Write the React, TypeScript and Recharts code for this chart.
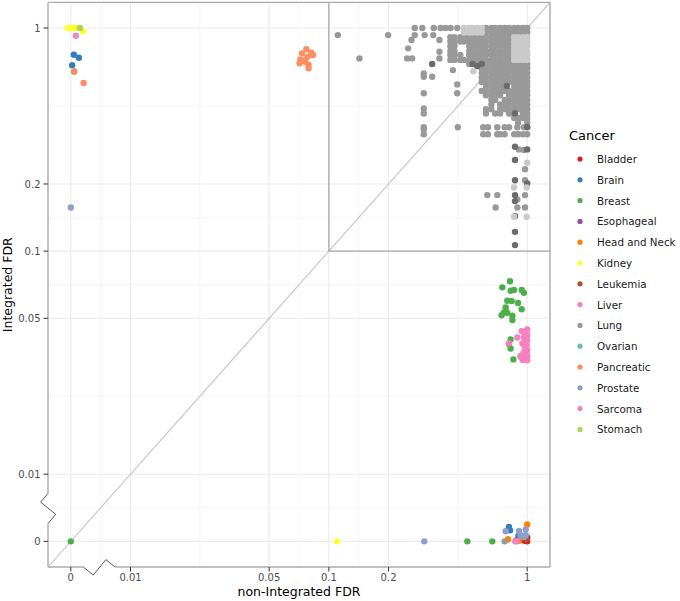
import React from 'react';
import { ScatterChart, Scatter, XAxis, YAxis, ReferenceLine } from 'recharts';

// [non-Integrated FDR, Integrated FDR]
type Pair = [number, number];
// [Integrated FDR, list of non-Integrated FDRs sharing it]
type Row = [number, number[]];

const FONT = '"DejaVu Sans", Verdana, sans-serif';

const cancers = [
  'Bladder', 'Brain', 'Breast', 'Esophageal', 'Head and Neck', 'Kidney', 'Leukemia',
  'Liver', 'Lung', 'Ovarian', 'Pancreatic', 'Prostate', 'Sarcoma', 'Stomach',
];
const cancerColors = [
  '#E41A1C', '#377EB8', '#4DAF4A', '#984EA3', '#FF7F00', '#FFFF33', '#A65628',
  '#F781BF', '#999999', '#66C2A5', '#FC8D62', '#8DA0CB', '#E78AC3', '#A6D854',
];

const tickValues = [0, 0.01, 0.05, 0.1, 0.2, 1];
const tickLabels = ['0', '0.01', '0.05', '0.1', '0.2', '1'];

const bladder: Pair[] = [[1, 0], [1, 0.0052], [0.97, 0.00503]];
const brain: Pair[] = [
  [0.00518, 0.759], [0.00549, 0.736], [0.00508, 0.682],
  [0.809, 0.0058], [0.82, 0.0056], [0.903, 0.00528],
];
const breast: Pair[] = [
  [0.749, 0.0688], [0.819, 0.0733], [0.825, 0.0664], [0.858, 0.0669], [0.938, 0.0669],
  [0.963, 0.065], [0.794, 0.0599], [0.835, 0.0597], [0.899, 0.0586], [0.779, 0.0559],
  [0.938, 0.0549], [0.763, 0.0531], [0.794, 0.0529], [0.743, 0.0516], [0.842, 0.0513],
  [0.842, 0.0491], [0.825, 0.0402], [0.809, 0.0383], [0.825, 0.0366], [0.852, 0.0327],
  [0.927, 0.0338], [0.499, 0], [0.667, 0], [0, 0],
];
const esophageal: Pair[] = [[0.88, 0.00505]];
const headAndNeck: Pair[] = [[1, 0.00595], [0.8, 0.00511], [0.909, 0.00503]];
const kidney: Pair[] = [
  [0.00483, 1], [0.005, 1], [0.00509, 1], [0.00518, 1], [0.0053, 1], [0.00541, 1],
  [0.00577, 0.966], [0.11, 0],
];
const leukemia: Pair[] = [[0.99, 0.0051]];
const liver: Pair[] = [
  [0.938, 0.0438], [0.892, 0.041], [0.963, 0.041], [1, 0.042], [1, 0.0399], [0.946, 0.0386],
  [0.994, 0.0379], [1, 0.036], [0.957, 0.035], [0.994, 0.0345], [0.927, 0.0336], [0.983, 0.033],
  [1, 0.0324], [0.809, 0.0386], [0.975, 0.0425], [0.985, 0.0395], [0.97, 0.037], [0.99, 0.0355],
  [0.965, 0.0335], [0.975, 0.0325], [1, 0.0445], [0.95, 0.0325], [1, 0.0338], [0.98, 0.0405],
  [0.96, 0.0385], [0.885, 0],
];
const lungScattered: Pair[] = [
  [0.111, 0.93], [0.199, 0.93], [0.1426, 0.731],
  [0.271, 1], [0.296, 1], [0.338, 1], [0.366, 1], [0.388, 1], [0.411, 1], [0.444, 1],
  [0.271, 0.93], [0.304, 0.93], [0.336, 0.93], [0.261, 0.884], [0.361, 0.884],
  [0.251, 0.811], [0.361, 0.783], [0.248, 0.731], [0.263, 0.731], [0.361, 0.731],
  [0.301, 0.626], [0.301, 0.605], [0.332, 0.605], [0.422, 0.648],
  [0.301, 0.51], [0.444, 0.559], [0.444, 0.51], [0.301, 0.436], [0.301, 0.414],
  [0.447, 0.359], [0.301, 0.359], [0.301, 0.351], [0.301, 0.334],
  [0.909, 0.2858], [0.963, 0.2838], [0.975, 0.233], [0.975, 0.208], [0.6295, 0.1783],
  [0.7071, 0.1783], [0.975, 0.1783], [0.892, 0.1706], [0.6933, 0.157], [0.892, 0.157],
  [0.975, 0.157], [0.77, 0],
];
const lungBlock: Row[] = [
  [1, [0.62, 0.66, 0.69, 0.73, 0.77, 0.81, 0.86, 0.9, 0.95, 1]],
  [0.955, [0.62, 0.66, 0.69, 0.73, 0.77, 0.81, 0.86, 0.9, 0.95, 1]],
  [0.91, [0.41, 0.43, 0.46, 0.48, 0.51, 0.53, 0.56, 0.59, 0.62, 0.66, 0.69, 0.73, 0.77, 0.81]],
  [0.87, [0.41, 0.43, 0.46, 0.48, 0.51, 0.53, 0.56, 0.59, 0.62, 0.66, 0.69, 0.73, 0.77, 0.81]],
  [0.83, [0.41, 0.43, 0.51, 0.53, 0.56, 0.59, 0.62, 0.66, 0.69, 0.73, 0.77, 0.81]],
  [0.79, [0.41, 0.43, 0.51, 0.53, 0.56, 0.59, 0.62, 0.66, 0.69, 0.73, 0.77, 0.81]],
  [0.757, [0.41, 0.43, 0.46, 0.51, 0.53, 0.56, 0.59, 0.62, 0.66, 0.69, 0.73, 0.77, 0.81]],
  [0.72, [0.41, 0.43, 0.46, 0.48, 0.51, 0.53, 0.56, 0.59, 0.62, 0.66, 0.69, 0.73, 0.77, 0.81]],
  [0.69, [0.51, 0.56, 0.62, 0.66, 0.69, 0.73, 0.77, 0.81, 0.86, 0.9, 0.95, 1]],
  [0.66, [0.59, 0.62, 0.66, 0.69, 0.73, 0.77, 0.81, 0.86, 0.9, 0.95, 1]],
  [0.63, [0.59, 0.62, 0.66, 0.69, 0.73, 0.77, 0.81, 0.86, 0.9, 0.95, 1]],
  [0.6, [0.59, 0.62, 0.66, 0.69, 0.73, 0.77, 0.81, 0.86, 0.9, 0.95, 1]],
  [0.573, [0.59, 0.62, 0.66, 0.69, 0.73, 0.77, 0.81, 0.86, 0.9, 0.95, 1]],
  [0.547, [0.62, 0.66, 0.69, 0.73, 0.77, 0.86, 0.9, 0.95, 1]],
  [0.522, [0.59, 0.62, 0.66, 0.69, 0.73, 0.77, 0.81, 0.86, 0.9, 0.95, 1]],
  [0.5, [0.62, 0.66, 0.69, 0.73, 0.81, 0.86, 0.9, 0.95, 1]],
  [0.476, [0.66, 0.69, 0.77, 0.81, 0.86, 0.9, 0.95, 1]],
  [0.454, [0.66, 0.73, 0.77, 0.81, 0.86, 0.9, 0.95, 1]],
  [0.433, [0.62, 0.66, 0.73, 0.77, 0.81, 0.86, 0.9, 0.95, 1]],
  [0.414, [0.62, 0.69, 0.73, 0.81, 0.86, 0.95, 1]],
  [0.395, [0.86, 0.9, 0.95, 1]],
  [0.377, [0.9, 1]],
  [0.359, [0.6, 0.634, 0.707, 0.77, 0.81, 0.892, 0.963, 1]],
  [0.334, [0.6, 0.634, 0.707, 0.73, 0.77, 0.86, 0.9, 0.95, 1]],
];
// Overlapping Lung points that read darker or lighter than the base grey
const lungDark: Pair[] = [
  [0.332, 0.69], [0.53, 0.69], [0.59, 0.69], [0.56, 0.675], [0.79, 0.55], [1, 0.36],
  [0.868, 0.415], [0.868, 0.2935], [1, 0.2858], [0.868, 0.256], [0.868, 0.208], [1, 0.2009],
  [0.868, 0.1783], [0.868, 0.1676], [0.868, 0.1435], [0.868, 0.122], [0.868, 0.1064],
];
const lungLight: Pair[] = [
  [0.535, 0.641], [1, 0.249], [0.858, 0.193], [0.994, 0.193], [0.858, 0.1425], [0.994, 0.1425],
];
const lungLightBlock: Row[] = [
  [1, [0.48, 0.51, 0.53, 0.56, 0.59]],
  [0.955, [0.48, 0.51, 0.53, 0.56, 0.59]],
  [0.91, [0.86, 0.9, 0.95, 1]],
  [0.87, [0.86, 0.9, 0.95, 1]],
  [0.83, [0.86, 0.9, 0.95, 1]],
  [0.79, [0.86, 0.9, 0.95, 1]],
  [0.757, [0.86, 0.9, 0.95, 1]],
  [0.72, [0.86, 0.9, 0.95, 1]],
];
const ovarian: Pair[] = [[0.0052, 0.639]];
const pancreatic: Pair[] = [
  [0.0052, 0.639], [0.0058, 0.567],
  [0.0732, 0.77], [0.077, 0.803], [0.0816, 0.775], [0.0832, 0.757], [0.0781, 0.743],
  [0.0746, 0.714], [0.0712, 0.695], [0.0761, 0.706], [0.079, 0.683], [0.079, 0.66], [0.0718, 0.724],
];
const prostate: Pair[] = [
  [0, 0.157], [0.3027, 0], [0.779, 0.00555], [0.909, 0.00557], [0.983, 0.00565],
  [0.927, 0.00533], [0.963, 0.00523], [0.983, 0.00533],
];
const sarcoma: Pair[] = [[0.0053, 0.924], [0.87, 0]];
const stomach: Pair[] = [[0.00556, 1]];

// Log10 scale on both axes; exact zeros sit at 0.005, beyond the axis break
const ZERO_POS = 0.005;
const toT = (v: number) => Math.log10(v > 0 ? v : ZERO_POS);
const DOMAIN: [number, number] = [-2.416, 0.115];
const majorT = tickValues.map(toT);
const minorT = majorT.slice(1).map((t, i) => (t + majorT[i]) / 2);
const tickLabel = (t: number) => {
  const i = majorT.findIndex((m) => Math.abs(m - t) < 1e-6);
  return i >= 0 ? tickLabels[i] : '';
};

const fromPairs = (pairs: Pair[]) => pairs.map(([nx, iy]) => ({ x: toT(nx), y: toT(iy) }));
const fromRows = (rows: Row[]) =>
  rows.flatMap(([iy, xs]) => xs.map((nx) => ({ x: toT(nx), y: toT(iy) })));

const seriesPoints: Record<string, { x: number; y: number }[]> = {
  Bladder: fromPairs(bladder),
  Brain: fromPairs(brain),
  Breast: fromPairs(breast),
  Esophageal: fromPairs(esophageal),
  'Head and Neck': fromPairs(headAndNeck),
  Kidney: fromPairs(kidney),
  Leukemia: fromPairs(leukemia),
  Liver: fromPairs(liver),
  Lung: [...fromPairs(lungScattered), ...fromRows(lungBlock)],
  Ovarian: fromPairs(ovarian),
  Pancreatic: fromPairs(pancreatic),
  Prostate: fromPairs(prostate),
  Sarcoma: fromPairs(sarcoma),
  Stomach: fromPairs(stomach),
};
const lungDarkPoints = fromPairs(lungDark);
const lungLightPoints = [...fromPairs(lungLight), ...fromRows(lungLightBlock)];

const POINT_R = 3.2;
const dot = (fill: string) => (p: any) => <circle cx={p.cx} cy={p.cy} r={POINT_R} fill={fill} />;

// Broken-axis geometry (axis units)
const L = DOMAIN[0];
const B = DOMAIN[0];
const yBreak: [number, number][] = [[L, -2.086], [L - 0.037, -2.125], [L + 0.039, -2.18], [L, -2.221]];
const xBreak: [number, number][] = [[-2.238, B], [-2.188, B - 0.036], [-2.124, B + 0.033], [-2.078, B]];

const AXIS_GREY = '#ABABAB';

const seg = (key: string, a: [number, number], b: [number, number], stroke: string, w: number) => (
  <ReferenceLine
    key={key}
    segment={[{ x: a[0], y: a[1] }, { x: b[0], y: b[1] }]}
    stroke={stroke}
    strokeWidth={w}
    ifOverflow="visible"
  />
);

export default function App() {
  const gridLines = [
    ...minorT.map((t) => <ReferenceLine key={`mx${t}`} x={t} stroke="#F0F0F0" strokeWidth={0.7} ifOverflow="hidden" />),
    ...minorT.map((t) => <ReferenceLine key={`my${t}`} y={t} stroke="#F0F0F0" strokeWidth={0.7} ifOverflow="hidden" />),
    ...majorT.map((t) => <ReferenceLine key={`Mx${t}`} x={t} stroke="#EBEBEB" strokeWidth={1.1} ifOverflow="hidden" />),
    ...majorT.map((t) => <ReferenceLine key={`My${t}`} y={t} stroke="#EBEBEB" strokeWidth={1.1} ifOverflow="hidden" />),
  ];

  const frame = [
    seg('top', [DOMAIN[0], DOMAIN[1]], [DOMAIN[1], DOMAIN[1]], AXIS_GREY, 1.4),
    seg('right', [DOMAIN[1], DOMAIN[0]], [DOMAIN[1], DOMAIN[1]], AXIS_GREY, 1.4),
    seg('left1', [L, DOMAIN[1]], yBreak[0], AXIS_GREY, 1.4),
    seg('left2', yBreak[3], [L, DOMAIN[0]], AXIS_GREY, 1.4),
    seg('bottom1', [DOMAIN[0], B], xBreak[0], AXIS_GREY, 1.4),
    seg('bottom2', xBreak[3], [DOMAIN[1], B], AXIS_GREY, 1.4),
    ...yBreak.slice(1).map((p, i) => seg(`yb${i}`, yBreak[i], p, '#444444', 0.9)),
    ...xBreak.slice(1).map((p, i) => seg(`xb${i}`, xBreak[i], p, '#444444', 0.9)),
  ];

  const t01 = toT(0.1);
  const guides = [
    seg('diag', [DOMAIN[0], DOMAIN[0]], [DOMAIN[1], DOMAIN[1]], '#C4C4C4', 1.1),
    seg('boxV', [t01, t01], [t01, DOMAIN[1]], '#A8A8A8', 1.3),
    seg('boxH', [t01, t01], [DOMAIN[1], t01], '#A8A8A8', 1.3),
  ];

  const tickStyle = { fill: '#4D4D4D', fontSize: 10, fontFamily: FONT };

  return (
    <div style={{ position: 'absolute', left: 0, top: 0, width: 680, height: 601, background: '#FFFFFF' }}>
      <ScatterChart width={680} height={601} margin={{ top: 2.4, right: 130, bottom: 0, left: 0 }}>
        <XAxis
          type="number"
          dataKey="x"
          domain={DOMAIN}
          ticks={majorT}
          interval={0}
          allowDataOverflow
          axisLine={false}
          tickLine={{ stroke: '#333333', strokeWidth: 1 }}
          tickSize={4.5}
          tickMargin={2}
          tick={tickStyle}
          tickFormatter={tickLabel}
          height={34}
          label={{
            value: 'non-Integrated FDR',
            position: 'insideBottom',
            offset: 5,
            style: { fill: '#000000', fontSize: 12.5, fontFamily: FONT },
          }}
        />
        <YAxis
          type="number"
          dataKey="y"
          domain={DOMAIN}
          ticks={majorT}
          interval={0}
          allowDataOverflow
          axisLine={false}
          tickLine={{ stroke: '#333333', strokeWidth: 1 }}
          tickSize={4.5}
          tickMargin={3}
          tick={tickStyle}
          tickFormatter={tickLabel}
          width={48}
          label={{
            value: 'Integrated FDR',
            angle: -90,
            position: 'insideLeft',
            offset: 8,
            style: { fill: '#000000', fontSize: 12.5, fontFamily: FONT, textAnchor: 'middle' },
          }}
        />
        {gridLines}
        {cancers.map((name, i) => {
          const items = [
            <Scatter
              key={name}
              name={name}
              data={seriesPoints[name]}
              fill={cancerColors[i]}
              shape={dot(cancerColors[i])}
              isAnimationActive={false}
            />,
          ];
          if (name === 'Lung') {
            items.push(
              <Scatter key="lung-dark" name="Lung (overlap)" data={lungDarkPoints} shape={dot('#6B6B6B')} legendType="none" isAnimationActive={false} />,
              <Scatter key="lung-light" name="Lung (light)" data={lungLightPoints} shape={dot('#CACACA')} legendType="none" isAnimationActive={false} />,
            );
          }
          return items;
        })}
        {guides}
        {frame}
      </ScatterChart>
      <svg width={680} height={601} style={{ position: 'absolute', left: 0, top: 0, pointerEvents: 'none' }}>
        <text x={569} y={135} dominantBaseline="central" fontSize={13} fontFamily={FONT} fill="#000000">
          Cancer
        </text>
        {cancers.map((name, i) => (
          <g key={name}>
            <circle cx={580} cy={159 + i * 20.8} r={2.6} fill={cancerColors[i]} />
            <text x={597} y={159 + i * 20.8} dominantBaseline="central" fontSize={10.3} fontFamily={FONT} fill="#1A1A1A">
              {name}
            </text>
          </g>
        ))}
      </svg>
    </div>
  );
}
